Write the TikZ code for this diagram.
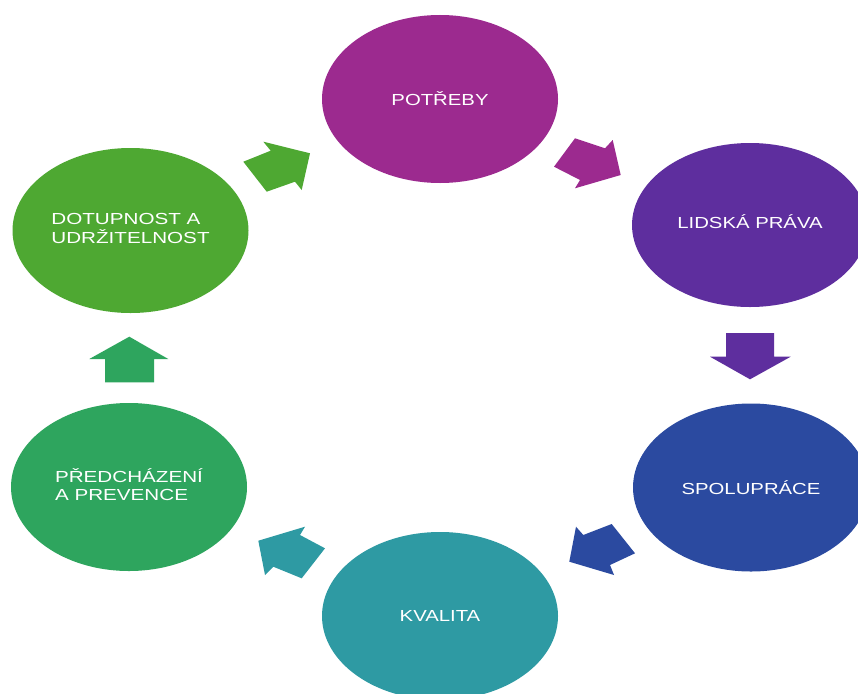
\documentclass[tikz,border=0pt]{standalone}
\usepackage{fontspec}
\usepackage{graphicx}
\setmainfont{Liberation Sans}
\usetikzlibrary{shapes.geometric}
\definecolor{cmag}{RGB}{156,42,143}
\definecolor{cpur}{RGB}{94,46,158}
\definecolor{cblu}{RGB}{43,74,160}
\definecolor{cteal}{RGB}{46,154,163}
\definecolor{cgrn}{RGB}{46,165,94}
\definecolor{clgrn}{RGB}{78,168,50}
\newcommand\widetext[1]{\scalebox{1.27}[1]{#1}}
\newcommand\twolines[2]{\scalebox{1.29}[1]{\begin{tabular}{@{}l@{}}#1\\#2\end{tabular}}}
\begin{document}
\begin{tikzpicture}[x=1pt,y=-1pt,
  bubble/.style={ellipse, minimum width=236pt, minimum height=168pt, inner sep=0pt,
    text=white, font=\fontsize{16}{18}\selectfont},
  blockarrow/.style={draw=none}]
\useasboundingbox (0,0) rectangle (858,693);
\clip (0,0) rectangle (858,693);
\fill[white] (0,0) rectangle (858,693);

\node[bubble, fill=cmag]  (potreby) at (440,99)    {\widetext{POTŘEBY}};
\node[bubble, fill=cpur, minimum height=164pt]  (prava)   at (750,225)   {\raisebox{7pt}{\widetext{LIDSKÁ PRÁVA}}};
\node[bubble, fill=cblu]  (spolu)   at (751,487.5) {\widetext{SPOLUPRÁCE}};
\node[bubble, fill=cteal] (kval)    at (440,616)   {\widetext{KVALITA}};
\node[bubble, fill=cgrn]  (pred)    at (129,487)   {\twolines{PŘEDCHÁZENÍ}{A PREVENCE}};
\node[bubble, fill=clgrn, minimum height=165pt] (dost) at (130.5,230.5) {\twolines{DOTUPNOST A}{UDRŽITELNOST}};

% block arrows
\fill[blockarrow, clgrn] (310,153.3) -- (263.3,141.7) -- (270.7,150.7) -- (243.3,161.7)
  -- (266.7,191.7) -- (295,181.7) -- (301.7,190) -- cycle;
\fill[blockarrow, cmag] (620.7,175) -- (612.7,140) -- (605,148.3) -- (575,138.3)
  -- (554,166.7) -- (580,180) -- (575,188.3) -- cycle;
\fill[blockarrow, cpur] (750,379.3) -- (710,356.7) -- (726,356.7) -- (726,333)
  -- (774,333) -- (774,356.7) -- (790.7,356.7) -- cycle;
\fill[blockarrow, cblu] (569.3,561.7) -- (576,526.7) -- (583.3,535) -- (611.7,524)
  -- (635,553.3) -- (610,565) -- (614,575) -- cycle;
\fill[blockarrow, cteal] (258.3,540.7) -- (305,526.7) -- (300,535) -- (325,548.3)
  -- (301.7,578.3) -- (273.3,566.7) -- (265,575) -- cycle;
\fill[blockarrow, cgrn] (129.3,336.7) -- (168.3,359) -- (154,359) -- (154,382.3)
  -- (105,382.3) -- (105,359) -- (89.3,359) -- cycle;
\end{tikzpicture}
\end{document}
